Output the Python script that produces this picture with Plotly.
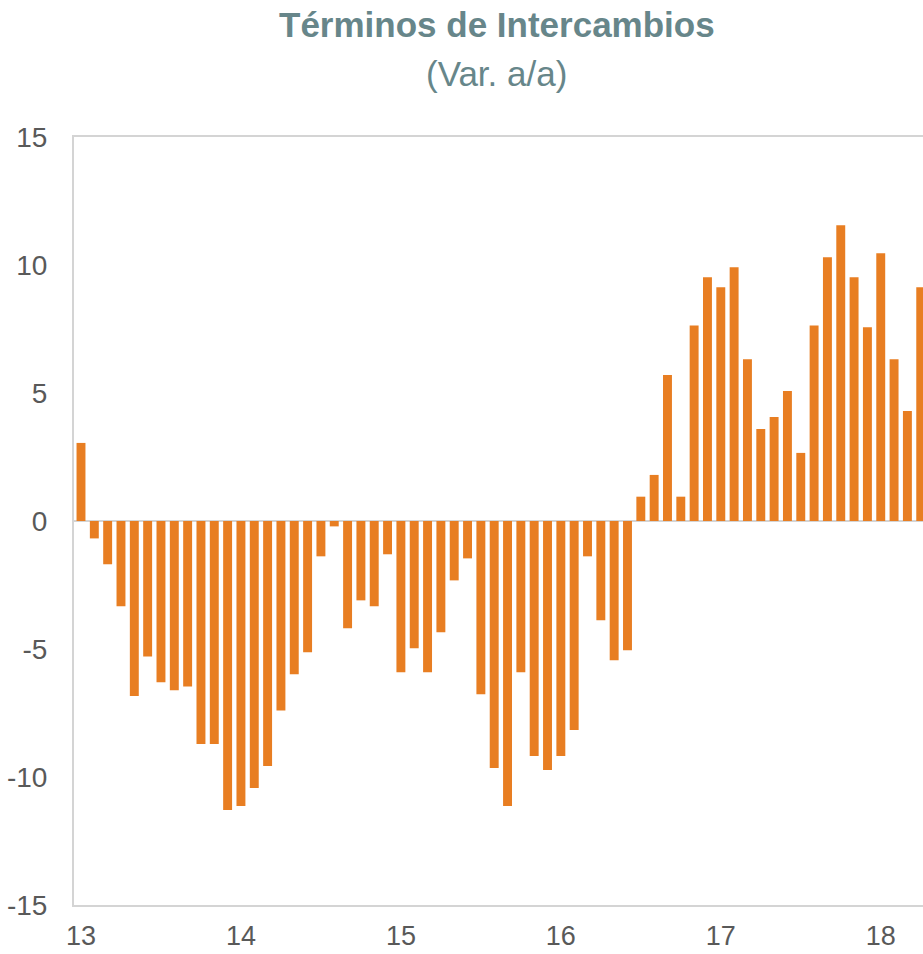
import plotly.graph_objects as go

# Monthly year-on-year change of terms of trade, Jan-2013 onwards
values = [
    3.05, -0.68, -1.69, -3.33, -6.84, -5.29, -6.30, -6.61, -6.46, -8.71, -8.71, -11.29,
    -11.13, -10.43, -9.57, -7.40, -5.99, -5.13, -1.38, -0.21, -4.19, -3.10, -3.33, -1.30,
    -5.91, -4.97, -5.91, -4.35, -2.32, -1.46, -6.77, -9.65, -11.13, -5.91, -9.18, -9.73,
    -9.18, -8.16, -1.38, -3.88, -5.44, -5.05, 0.95, 1.80, 5.70, 0.95, 7.64, 9.52,
    9.13, 9.91, 6.32, 3.59, 4.06, 5.08, 2.66, 7.64, 10.30, 11.55, 9.52, 7.57,
    10.46, 6.32, 4.30, 9.13,
]
month_index = list(range(len(values)))

year_labels = ["13", "14", "15", "16", "17", "18"]
year_positions = [0, 12, 24, 36, 48, 60]

y_ticks = [-15, -10, -5, 0, 5, 10, 15]
y_tick_text = ["-15", "-10", "-5", "0", "5", "10", "15"]

title_text = "Términos de Intercambios"
subtitle_text = "(Var. a/a)"

FONT = "Liberation Sans, Arial, sans-serif"
BAR_COLOR = "#E87E22"
TITLE_COLOR = "#67868A"
TICK_COLOR = "#595959"
LINE_COLOR = "#D4D4D4"

fig = go.Figure(
    go.Bar(
        x=month_index,
        y=values,
        marker=dict(color=BAR_COLOR, line=dict(width=0)),
        hoverinfo="y",
    )
)

fig.update_layout(
    width=923,
    height=954,
    margin=dict(l=74, r=0, t=137, b=49, autoexpand=False),
    paper_bgcolor="white",
    plot_bgcolor="white",
    bargap=0.33,
    showlegend=False,
    font=dict(family=FONT, color=TICK_COLOR, size=28),
    annotations=[
        dict(
            text="<b>" + title_text + "</b>",
            xref="paper", yref="paper",
            x=0.498, y=1.0, xanchor="center", yanchor="middle",
            yshift=113,
            showarrow=False,
            font=dict(family=FONT, size=35, color=TITLE_COLOR),
        ),
        dict(
            text=subtitle_text,
            xref="paper", yref="paper",
            x=0.498, y=1.0, xanchor="center", yanchor="middle",
            yshift=64,
            showarrow=False,
            font=dict(family=FONT, size=35, color=TITLE_COLOR),
        ),
    ],
)

fig.update_xaxes(
    range=[-0.525, 63.17],
    tickmode="array",
    tickvals=year_positions,
    ticktext=year_labels,
    showgrid=False,
    zeroline=False,
    showline=True,
    linecolor=LINE_COLOR,
    linewidth=2,
    mirror=True,
    ticks="",
    automargin=False,
    ticklabelstandoff=6,
    tickfont=dict(size=27, color=TICK_COLOR),
)

fig.update_yaxes(
    range=[-15, 15],
    tickmode="array",
    tickvals=y_ticks,
    ticktext=y_tick_text,
    showgrid=False,
    zeroline=True,
    zerolinecolor=LINE_COLOR,
    zerolinewidth=2,
    showline=True,
    linecolor=LINE_COLOR,
    linewidth=2,
    ticks="",
    automargin=False,
    ticklabelstandoff=19,
    tickfont=dict(size=28, color=TICK_COLOR),
)

fig.write_html(
    "out.html",
    config={"displayModeBar": False},
    post_script="document.body.style.margin='0';document.body.style.overflow='hidden';",
)
